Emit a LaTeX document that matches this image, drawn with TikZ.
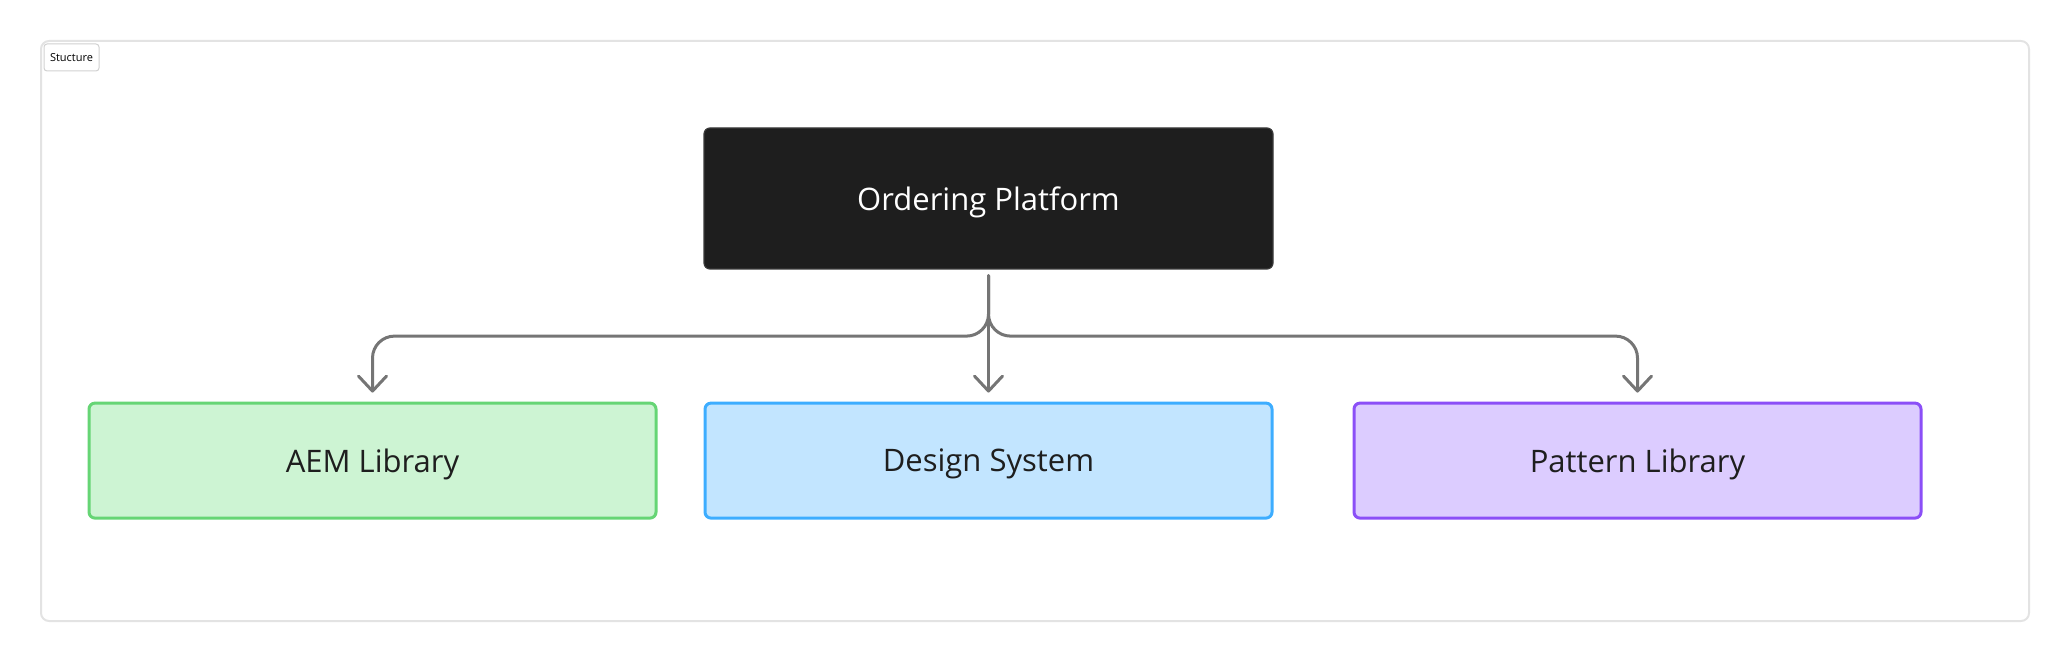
\documentclass[tikz,border=0pt]{standalone}
\usepackage{fontspec}
\setmainfont{Open Sans}
\usetikzlibrary{arrows.meta,positioning}

\definecolor{darkfill}{HTML}{1E1E1E}
\definecolor{darkline}{HTML}{3A3A3A}
\definecolor{greenfill}{HTML}{CDF4D3}
\definecolor{greenline}{HTML}{66D575}
\definecolor{bluefill}{HTML}{C2E5FF}
\definecolor{blueline}{HTML}{3DADFF}
\definecolor{violetfill}{HTML}{DCCCFF}
\definecolor{violetline}{HTML}{8B4FF7}
\definecolor{connline}{HTML}{757575}
\definecolor{frameline}{HTML}{E3E3E3}
\definecolor{textdark}{HTML}{1E1E1E}

\begin{document}
\begin{tikzpicture}[
    x=0.5pt, y=-0.5pt,
    node distance=25pt,
    box/.style={rectangle, rounded corners=3pt, line width=1.5pt, align=center,
                minimum width=283.5pt, minimum height=57.5pt, text=textdark,
                font=\fontsize{15.5}{18}\selectfont, inner sep=0pt, text depth=0pt},
    topbox/.style={box, fill=darkfill, draw=darkline, line width=0.6pt,
                   minimum width=284.5pt, minimum height=70.5pt, text=white},
    flow/.style={-{Straight Barb[length=7.5pt, width=14pt, round]}, draw=connline,
                 line width=1.5pt, line cap=round, rounded corners=11pt}
]
\useasboundingbox (0,0) rectangle (2071,663);
% frame and its tag
\draw[frameline, line width=1pt, rounded corners=4pt] (41,41) rectangle (2029,621);
\node[draw=black!18, line width=0.5pt, rounded corners=1.5pt, fill=white, anchor=north west,
      minimum width=27.5pt, minimum height=13.5pt, inner sep=0pt,
      font=\fontsize{5.5}{6}\selectfont] (tag) at (43.5,43.5) {Stucture};
% boxes
\node[topbox] (plat) at (988.5,198.5) {Ordering Platform};
\node[box, fill=bluefill, draw=blueline, below=66pt of plat] (design) {Design System};
\node[box, fill=greenfill, draw=greenline, left=23pt of design] (aem) {AEM Library};
\node[box, fill=violetfill, draw=violetline, right=39.5pt of design] (pattern) {Pattern Library};
% connectors
\draw[flow] ([yshift=-3pt]plat.south) -- ([yshift=4.5pt]design.north);
\draw[flow] ([yshift=-3pt]plat.south) -- ++(0,-30.25pt) -| ([yshift=4.5pt]aem.north);
\draw[flow] ([yshift=-3pt]plat.south) -- ++(0,-30.25pt) -| ([yshift=4.5pt]pattern.north);
\end{tikzpicture}
\end{document}
